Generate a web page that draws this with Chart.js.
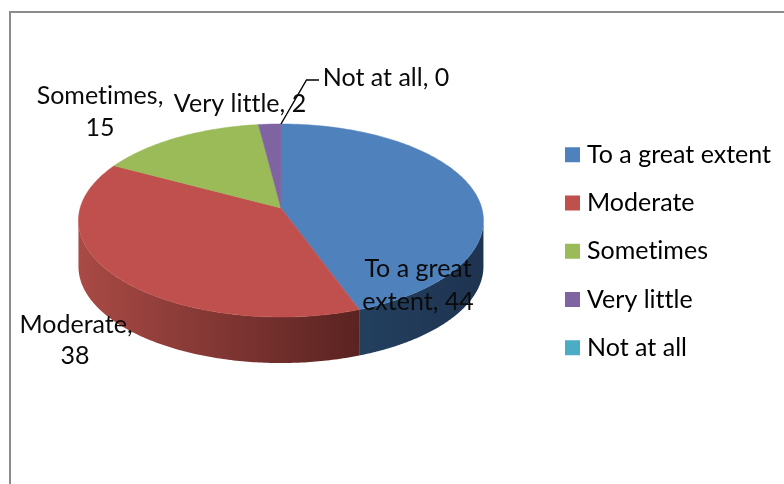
<!DOCTYPE html>
<html>
<head>
<meta charset="utf-8">
<style>
html,body{margin:0;padding:0;background:#fff;width:784px;height:484px;overflow:hidden}
#frame{position:absolute;left:9px;top:11px;width:780px;height:480px;border-left:2px solid #8c8c8c;border-top:2px solid #8c8c8c;box-sizing:border-box}
#wrap{position:absolute;left:0;top:0;width:784px;height:484px}
</style>
<script src="https://cdn.jsdelivr.net/npm/chart.js@4/dist/chart.umd.js"></script>
</head>
<body>
<div id="frame"></div>
<div id="wrap"><canvas id="c" width="784" height="484"></canvas></div>
<script>
const categories = ["To a great extent", "Moderate", "Sometimes", "Very little", "Not at all"];
const values = [44, 38, 15, 2, 0];
const colors = ["#4F81BD", "#C0504D", "#9BBB59", "#8064A2", "#4BACC6"];
const wallStops = [["#1E3350", "#23405F"], ["#5A2321", "#A94A45"], ["#5E7236", "#7d9a47"], ["#4D3C62", "#6a5387"], ["#2C6A7A", "#3a8ba0"]];

const FONT = "Lato";
const FS = 25;
const PERSPECTIVE = 0.1295;   // depth foreshortening
const FLATTEN = 0.4687;       // vertical squash of the disc
const DEPTH = 46;             // wall height

// label centres, one [x, y] per text line
const labelLines = [
  [[418, 269, "To a great"], [418, 302, "extent, 44"]],
  [[76, 325, "Moderate,"], [75, 356, "38"]],
  [[100, 96, "Sometimes,"], [100, 128, "15"]],
  [[240, 104, "Very little, 2"]],
  [[386, 78, "Not at all, 0"]]
];
const leader = [[281, 124], [306.5, 80], [319, 80]];

function project(el, theta) {
  const R = el.outerRadius, k = PERSPECTIVE;
  const A = R * Math.sqrt(1 - k * k), B = R * FLATTEN;
  const u = Math.cos(theta), v = Math.sin(theta), w = 1 - k * v;
  return [el.x + A * u / w, el.y + B * v / w];
}

Chart.ArcElement.prototype.draw = function (ctx) {
  const s = this.startAngle, e = this.endAngle;
  if (e - s <= 0) return;
  const i = this.$context ? this.$context.dataIndex : 0;
  const fill = this.options.backgroundColor;
  const steps = Math.max(4, Math.ceil((e - s) * 60));

  // side wall, only along the front of the disc
  const right = Math.asin(PERSPECTIVE), left = Math.PI - right;
  const a = Math.max(s, right), b = Math.min(e, left);
  ctx.save();
  if (b > a) {
    const pts = [];
    for (let n = 0; n <= steps; n++) pts.push(project(this, a + (b - a) * n / steps));
    const g = ctx.createLinearGradient(pts[0][0], 0, pts[steps][0], 0);
    g.addColorStop(0, wallStops[i][0]);
    g.addColorStop(1, wallStops[i][1]);
    ctx.beginPath();
    pts.forEach((p, n) => n ? ctx.lineTo(p[0], p[1]) : ctx.moveTo(p[0], p[1]));
    for (let n = steps; n >= 0; n--) ctx.lineTo(pts[n][0], pts[n][1] + DEPTH);
    ctx.closePath();
    ctx.fillStyle = g;
    ctx.fill();
  }
  // top face
  ctx.beginPath();
  ctx.moveTo(this.x, this.y);
  for (let n = 0; n <= steps; n++) {
    const p = project(this, s + (e - s) * n / steps);
    ctx.lineTo(p[0], p[1]);
  }
  ctx.closePath();
  ctx.fillStyle = fill;
  ctx.fill();
  ctx.strokeStyle = fill;
  ctx.lineWidth = 0.5;
  ctx.stroke();
  ctx.restore();
};

const placeLegend = {
  id: "placeLegend",
  afterLayout(chart) {
    const l = chart.legend;
    const w = l.right - l.left, h = l.bottom - l.top;
    l.left = 547.25; l.right = 547.25 + w;
    l.top = 119; l.bottom = 119 + Math.max(h, 340);
  },
  beforeDraw(chart) {
    chart.ctx.letterSpacing = "0.01px";  // keeps "tt"/"ti" as separate letters
  }
};

const dataLabels = {
  id: "dataLabels",
  afterDatasetsDraw(chart) {
    const ctx = chart.ctx;
    ctx.save();
    ctx.strokeStyle = "#000";
    ctx.lineWidth = 1.4;
    ctx.beginPath();
    leader.forEach((p, n) => n ? ctx.lineTo(p[0], p[1]) : ctx.moveTo(p[0], p[1]));
    ctx.stroke();
    ctx.font = FS + "px " + FONT;
    ctx.fillStyle = "#0a0a0a";
    ctx.textAlign = "center";
    ctx.textBaseline = "middle";
    labelLines.forEach(lines => lines.forEach(t => ctx.fillText(t[2], t[0], t[1])));
    ctx.restore();
  }
};

new Chart(document.getElementById("c"), {
  type: "pie",
  data: { labels: categories, datasets: [{ data: values, backgroundColor: colors, borderWidth: 0 }] },
  plugins: [placeLegend, dataLabels],
  options: {
    responsive: false,
    animation: false,
    events: [],
    layout: { padding: { left: 11.5, top: 5.5, bottom: 73.5, right: 0 } },
    plugins: {
      tooltip: { enabled: false },
      legend: {
        position: "right",
        align: "start",
        labels: {
          font: { family: FONT, size: FS },
          color: "#0a0a0a",
          padding: 23.25,
          boxWidth: 4,
          boxHeight: 4,
          generateLabels(chart) {
            return categories.map((t, i) => ({
              text: t, fillStyle: colors[i], strokeStyle: colors[i],
              lineWidth: 11, lineJoin: "miter", hidden: false, index: i
            }));
          }
        }
      }
    }
  }
});
</script>
</body>
</html>
